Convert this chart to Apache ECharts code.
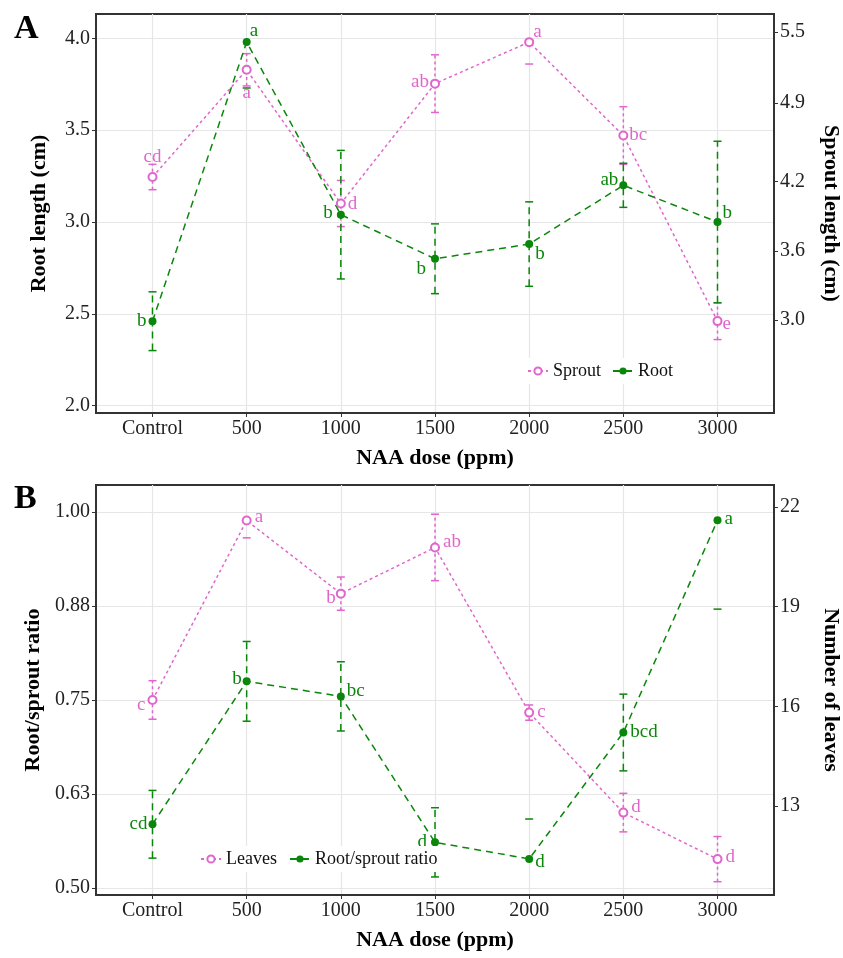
<!DOCTYPE html>
<html>
<head>
<meta charset="utf-8">
<script src="https://cdn.jsdelivr.net/npm/echarts@6/dist/echarts.min.js"></script>
<style>html,body{margin:0;padding:0;background:#fff}#main{width:843px;height:958px}</style>
</head>
<body>
<div id="main"></div>
<script>
var doses = ['Control', '500', '1000', '1500', '2000', '2500', '3000'];
var doseTicks = [0, 1, 2, 3, 4, 5, 6];

// 图A: 根长 (左轴) / 芽长 (右轴)
var rootMean = [2.46, 3.98, 3.04, 2.80, 2.88, 3.20, 3.00];
var rootErr = [0.16, 0.25, 0.35, 0.19, 0.23, 0.12, 0.44];
var rootSig = ['b', 'a', 'b', 'b', 'b', 'ab', 'b'];
var sproutMean = [4.24, 5.17, 4.01, 5.05, 5.41, 4.60, 2.99];
var sproutErr = [0.11, 0.14, 0.20, 0.25, 0.19, 0.25, 0.16];
var sproutSig = ['cd', 'a', 'd', 'ab', 'a', 'bc', 'e'];
var rootTicks = [2.0, 2.5, 3.0, 3.5, 4.0];
var sproutTicks = [3.0, 3.6, 4.2, 4.88, 5.5];

// 图B: 根芽比 (左轴) / 叶片数 (右轴)
var ratioMean = [0.585, 0.775, 0.755, 0.561, 0.539, 0.707, 0.989];
var ratioErr = [0.045, 0.053, 0.046, 0.046, 0.053, 0.051, 0.118];
var ratioSig = ['cd', 'b', 'bc', 'd', 'd', 'bcd', 'a'];
var leavesMean = [16.19, 21.59, 19.39, 20.78, 15.81, 12.80, 11.40];
var leavesErr = [0.58, 0.52, 0.50, 1.00, 0.23, 0.58, 0.68];
var leavesSig = ['c', 'a', 'b', 'ab', 'c', 'd', 'd'];
var ratioTicks = [0.5, 0.625, 0.75, 0.875, 1.0];
var leavesTicks = [13, 16, 19, 22];

// 坐标轴范围, 以及原图 y 轴的数据限制 (超出的误差线被去掉)
var rootRange = [1.96, 4.133], sproutRange = [2.193, 5.654];
var ratioRange = [0.491, 1.036], leavesRange = [10.32, 22.66];
var rootLimits = [2, 4], ratioLimits = [0.5, 1.0];

// 字母标注的位置 [方向, dx, dy]
var rootPlace = [['left', 3, 0], ['right', -6, -11], ['left', 1, -2], ['left', 0, 10], ['right', -3, 10], ['left', 4, -5], ['right', -4, -9]];
var sproutPlace = [['top', 0, 0], ['bottom', 0, 4], ['right', -3, 0], ['left', 4, -2], ['right', -6, -10], ['right', -4, 0], ['right', -5, 3]];
var ratioPlace = [['left', 4, 0], ['left', 4, -2], ['right', -3, -5], ['left', 1, 0], ['right', -3, 3], ['right', -2, 0], ['right', -2, -1]];
var leavesPlace = [['left', 3, 5], ['right', -2, -4], ['left', 5, 4], ['right', -2, -5], ['right', -2, -1], ['right', -2, -6], ['right', -2, -2]];

var pink = '#E066CC', green = '#0A870A';
var serif = '"Liberation Serif", "Times New Roman", serif';
var dotted = [3, 3], dashed = [7, 5];

// 左轴限制换算到右轴单位
function mapLimits(lim, from, to) {
  return lim.map(function (v) {
    return to[0] + (v - from[0]) / (from[1] - from[0]) * (to[1] - to[0]);
  });
}

function points(means, sig, place) {
  return means.map(function (v, i) {
    return {
      value: [i, v],
      label: {
        show: true, formatter: sig[i], position: place[i][0],
        offset: [place[i][1], place[i][2]], distance: 5
      }
    };
  });
}

function bars(means, errs) {
  return means.map(function (v, i) { return [i, v - errs[i], v + errs[i]]; });
}

function errorRenderer(color, dash, limits) {
  return function (params, api) {
    var x = api.value(0), loV = api.value(1), hiV = api.value(2);
    var lo = api.coord([x, loV]);
    var hi = api.coord([x, hiV]);
    var loIn = loV >= limits[0], hiIn = hiV <= limits[1];
    var w = 4, kids = [];
    if (loIn && hiIn) {
      kids.push({ type: 'line', shape: { x1: lo[0], y1: lo[1], x2: hi[0], y2: hi[1] }, style: { stroke: color, lineWidth: 1.5, lineDash: dash } });
    }
    if (loIn) {
      kids.push({ type: 'line', shape: { x1: lo[0] - w, y1: lo[1], x2: lo[0] + w, y2: lo[1] }, style: { stroke: color, lineWidth: 1.5 } });
    }
    if (hiIn) {
      kids.push({ type: 'line', shape: { x1: hi[0] - w, y1: hi[1], x2: hi[0] + w, y2: hi[1] }, style: { stroke: color, lineWidth: 1.5 } });
    }
    return { type: 'group', children: kids };
  };
}

function xAxisFor(grid) {
  return {
    type: 'value', gridIndex: grid, min: -0.6, max: 6.6,
    name: 'NAA dose (ppm)', nameLocation: 'middle', nameGap: 34,
    nameTextStyle: { fontFamily: serif, fontWeight: 'bold', fontSize: 22, color: '#000' },
    axisLine: { show: true, onZero: false, lineStyle: { color: '#333', width: 2 } },
    axisTick: { show: true, length: 4, customValues: doseTicks, lineStyle: { color: '#333' } },
    axisLabel: {
      customValues: doseTicks, margin: 6, fontSize: 20, color: '#222', fontFamily: serif,
      formatter: function (v) { return doses[Math.round(v)]; }
    },
    splitLine: { show: true, lineStyle: { color: '#e6e6e6', width: 1.2 } }
  };
}

function yAxisFor(grid, side, range, ticks, digits, title) {
  return {
    type: 'value', gridIndex: grid, position: side, min: range[0], max: range[1],
    name: title, nameLocation: 'middle', nameGap: 46, nameRotate: side == 'right' ? -90 : 90,
    nameTextStyle: { fontFamily: serif, fontWeight: 'bold', fontSize: 22, color: '#000' },
    axisLine: { show: true, onZero: false, lineStyle: { color: '#333', width: 2 } },
    axisTick: { show: true, length: 4, customValues: ticks, lineStyle: { color: '#333' } },
    axisLabel: {
      customValues: ticks, margin: 6, fontSize: 20, color: '#222', fontFamily: serif,
      formatter: function (v) { return v.toFixed(digits); }
    },
    splitLine: { show: side == 'left', lineStyle: { color: '#e6e6e6', width: 1.2 } }
  };
}

function lineSeries(name, xi, yi, color, dash, empty, means, sig, place) {
  return {
    name: name, type: 'line', xAxisIndex: xi, yAxisIndex: yi, z: 3,
    data: points(means, sig, place),
    symbol: empty ? 'emptyCircle' : 'circle', symbolSize: 8,
    itemStyle: { color: color, borderWidth: 1.3 },
    lineStyle: { color: color, width: 1.5, type: dash },
    label: { color: color, fontSize: 19, fontFamily: serif },
    emphasis: { disabled: true }, animation: false
  };
}

function errSeries(name, xi, yi, color, dash, means, errs, limits) {
  return {
    name: name, type: 'custom', xAxisIndex: xi, yAxisIndex: yi, z: 2, clip: true,
    data: bars(means, errs), encode: { x: 0, y: [1, 2] },
    renderItem: errorRenderer(color, dash, limits), animation: false
  };
}

var legendText = { fontFamily: serif, fontSize: 18, color: '#111' };

var chart = echarts.init(document.getElementById('main'));
chart.setOption({
  backgroundColor: '#fff',
  animation: false,
  textStyle: { fontFamily: serif },
  title: [
    { text: 'A', left: 9, top: 7, textStyle: { fontFamily: serif, fontWeight: 'bold', fontSize: 34, color: '#000' } },
    { text: 'B', left: 9, top: 477, textStyle: { fontFamily: serif, fontWeight: 'bold', fontSize: 34, color: '#000' } }
  ],
  grid: [
    { left: 96, top: 14, width: 678, height: 399, show: true, borderColor: '#333', borderWidth: 2, outerBoundsMode: 'none' },
    { left: 96, top: 485, width: 678, height: 410, show: true, borderColor: '#333', borderWidth: 2, outerBoundsMode: 'none' }
  ],
  legend: [
    { data: ['Sprout', 'Root'], left: 522, top: 358, itemWidth: 20, itemHeight: 9, itemGap: 11, padding: [4, 5], backgroundColor: '#fff', textStyle: legendText, selectedMode: false },
    { data: ['Leaves', 'Root/sprout ratio'], left: 195, top: 846, itemWidth: 20, itemHeight: 9, itemGap: 12, padding: [4, 5], backgroundColor: '#fff', textStyle: legendText, selectedMode: false }
  ],
  xAxis: [xAxisFor(0), xAxisFor(1)],
  yAxis: [
    yAxisFor(0, 'left', rootRange, rootTicks, 1, 'Root length (cm)'),
    yAxisFor(0, 'right', sproutRange, sproutTicks, 1, 'Sprout length (cm)'),
    yAxisFor(1, 'left', ratioRange, ratioTicks, 2, 'Root/sprout ratio'),
    yAxisFor(1, 'right', leavesRange, leavesTicks, 0, 'Number of leaves')
  ],
  series: [
    errSeries('Sprout err', 0, 1, pink, dotted, sproutMean, sproutErr, mapLimits(rootLimits, rootRange, sproutRange)),
    errSeries('Root err', 0, 0, green, dashed, rootMean, rootErr, rootLimits),
    lineSeries('Sprout', 0, 1, pink, dotted, true, sproutMean, sproutSig, sproutPlace),
    lineSeries('Root', 0, 0, green, dashed, false, rootMean, rootSig, rootPlace),
    errSeries('Leaves err', 1, 3, pink, dotted, leavesMean, leavesErr, mapLimits(ratioLimits, ratioRange, leavesRange)),
    errSeries('Ratio err', 1, 2, green, dashed, ratioMean, ratioErr, ratioLimits),
    lineSeries('Leaves', 1, 3, pink, dotted, true, leavesMean, leavesSig, leavesPlace),
    lineSeries('Root/sprout ratio', 1, 2, green, dashed, false, ratioMean, ratioSig, ratioPlace)
  ]
});
</script>
</body>
</html>
